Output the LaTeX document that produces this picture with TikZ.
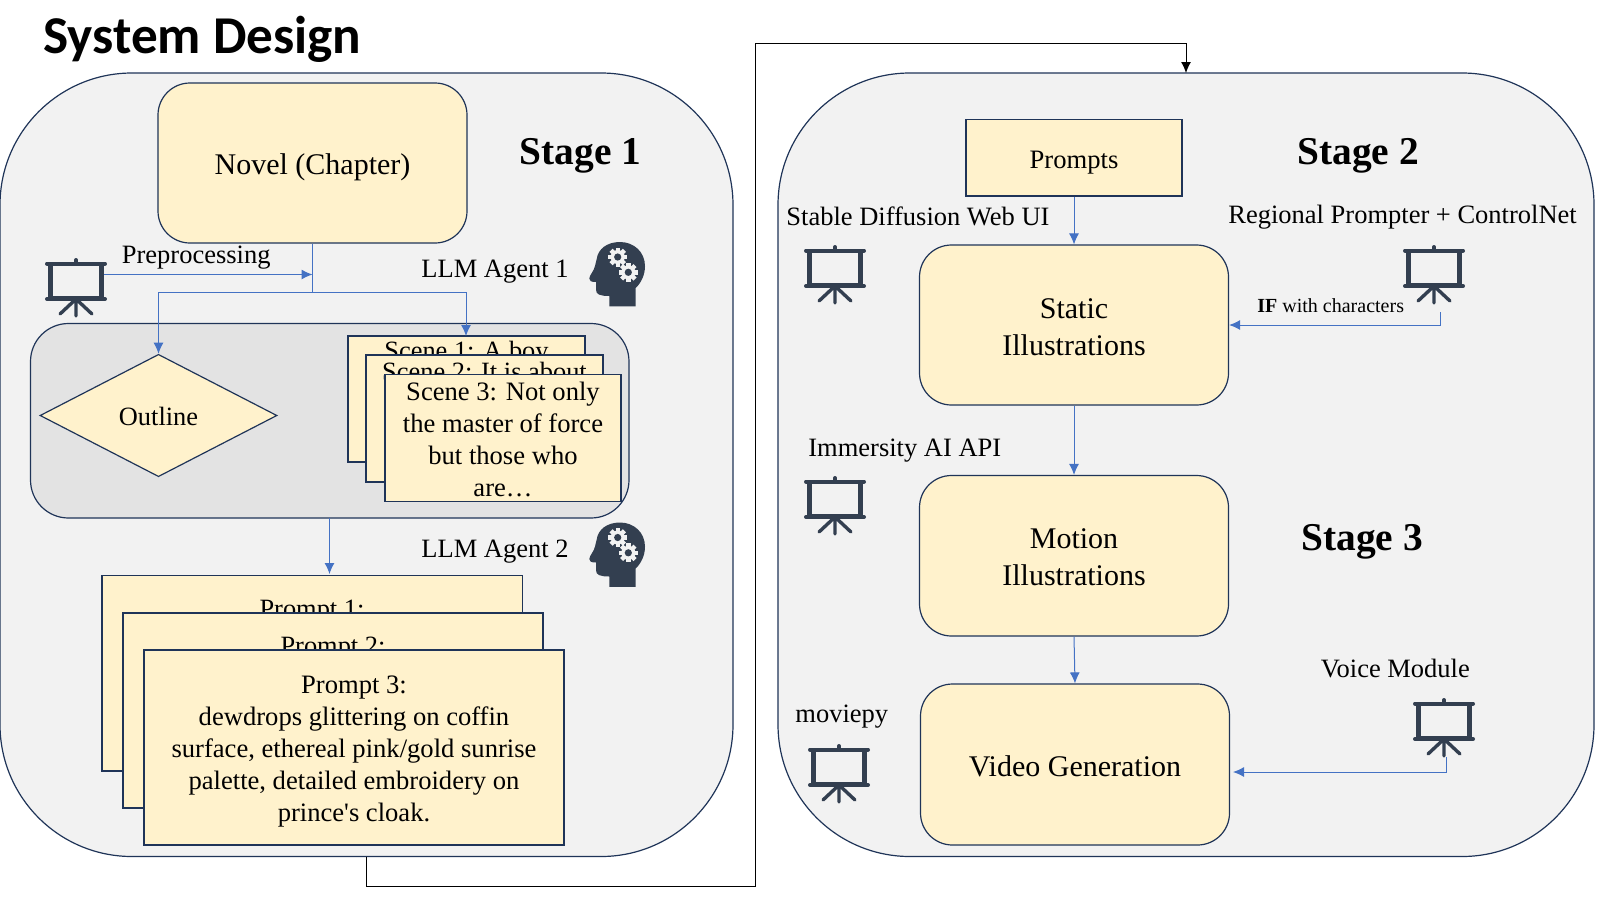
\documentclass[tikz,border=0pt]{standalone}
\usepackage{fontspec}
\setmainfont{Liberation Serif}
\newfontfamily\titlefont{Carlito}
\usetikzlibrary{arrows.meta,shapes.geometric}
\definecolor{navy}{HTML}{1F3458}
\definecolor{panelfill}{HTML}{F2F2F2}
\definecolor{innerfill}{HTML}{E3E3E3}
\definecolor{boxfill}{HTML}{FFF2CC}
\definecolor{flow}{HTML}{4472C4}
\definecolor{iconc}{HTML}{333F50}
% \pxnode{box style}{name}{x1}{y1}{x2}{y2}{text style}{text}: box given in reference pixels, with its text
\newcommand{\pxnode}[8]{%
  \pgfmathsetmacro{\pxcx}{(#3+#5)/2}\pgfmathsetmacro{\pxcy}{(#4+#6)/2}%
  \pgfmathsetmacro{\pxw}{(#5-#3)*0.5}\pgfmathsetmacro{\pxh}{(#6-#4)*0.5}%
  \node[#1,minimum width=\pxw pt,minimum height=\pxh pt] (#2) at (\pxcx,\pxcy) {};
  \node[#7] (#2text) at (\pxcx,\pxcy) {#8};}
\tikzset{
  panel/.style={draw=navy,line width=0.6pt,fill=panelfill,rounded corners=66pt,inner sep=0pt},
  innerpanel/.style={draw=navy,line width=0.6pt,fill=innerfill,rounded corners=19pt,inner sep=0pt},
  softbox/.style={draw=navy,line width=0.6pt,fill=boxfill,rounded corners=16pt,inner sep=0pt},
  sheet/.style={draw=navy,line width=0.6pt,fill=boxfill,inner sep=0pt},
  softtext/.style={inner sep=0pt,align=center,font=\fontsize{15}{18.3}\selectfont},
  sheettext/.style={inner sep=0pt,align=center,font=\fontsize{13.3}{16}\selectfont},
  covered/.style={inner sep=0pt,font=\fontsize{13.2}{16}\selectfont},
  decision/.style={diamond,aspect=1.55,draw=navy,line width=0.6pt,fill=boxfill,inner sep=0pt},
  lbl/.style={inner sep=0pt,anchor=west,font=\fontsize{13.25}{16}\selectfont},
  stagelbl/.style={inner sep=0pt,anchor=west,font=\fontsize{19.7}{24}\selectfont\bfseries},
  flowline/.style={draw=flow,line width=0.5pt,-{Latex[length=5.5pt,width=5pt]}},
  mainline/.style={draw=black,line width=0.5pt,-{Latex[length=5.5pt,width=5pt]}},
  screenicon/.pic={
    \draw[iconc,line width=2.2pt,fill=panelfill] (-25.5,5) rectangle (25.5,39.5);
    \draw[iconc,line width=2pt,line cap=round] (-29,4.5) -- (29,4.5) (-29,40) -- (29,40) (0,1) -- (0,4.5);
    \draw[iconc,line width=1.7pt,line cap=round] (0,40) -- (-16,55) (0,40) -- (0,57) (0,40) -- (16,55);
  },
  gearicon/.pic={
    \fill[panelfill] (0,0) circle (7);
    \foreach \a in {0,45,...,315}{\fill[panelfill,rotate=\a] (-2.2,-9.5) rectangle (2.2,0);}
    \fill[iconc] (0,0) circle (3.6);
  },
  headicon/.pic={
    \fill[iconc] (20.3,64.3) -- (46.7,64.3) -- (46.7,46)
      .. controls (52,41) and (56,33) .. (56,24.3)
      .. controls (56,10) and (45,0) .. (31,0)
      .. controls (18,0) and (9,7) .. (7.7,17)
      -- (6,24) .. controls (5,29) and (0.5,33) .. (0.3,36.5)
      .. controls (0.2,39) and (2,40) .. (7,40)
      -- (7,47.7) .. controls (7,52.5) and (11,54) .. (20.3,54) -- cycle;
    \pic at (28.7,15) {gearicon};
    \pic at (39.3,30.3) {gearicon};
  }
}
\begin{document}
\begin{tikzpicture}[x=0.5pt,y=-0.5pt]
\useasboundingbox[fill=white] (0,0) rectangle (1600,900);
% panels
\pxnode{panel}{stageA}{0}{73}{733}{856.5}{inner sep=0pt}{}
\pxnode{panel}{stageB}{778}{73}{1594}{856.5}{inner sep=0pt}{}
\node[anchor=west,inner sep=0pt,font=\titlefont\fontsize{26.6}{30}\selectfont\bfseries] (title) at (43,39) {System Design};
\node[stagelbl] (s1) at (519.5,155.5) {Stage 1};
\node[stagelbl] (s2) at (1297,155.5) {Stage 2};
\node[stagelbl] (s3) at (1301,541.5) {Stage 3};
% stage 1
\pxnode{softbox}{novel}{158}{83}{467}{243}{softtext,yshift=-2pt}{Novel (Chapter)}
\pxnode{innerpanel}{inner}{30.5}{323.5}{629}{518}{inner sep=0pt}{}
\node[decision,minimum width=118.5pt,minimum height=61.2pt] (outline) at (158.5,415.5) {};
\node[covered] (outlinetext) at (158.5,416.5) {Outline};
\pxnode{sheet}{sceneA}{348}{336}{585}{462}{inner sep=0pt}{}
\node[covered] (sceneAt) at (466.5,353.5) {Scene 1: A boy};
\pxnode{sheet}{sceneB}{366}{355}{603}{482}{inner sep=0pt}{}
\node[covered] (sceneBt) at (484.5,372) {Scene 2: It is about};
\pxnode{sheet}{sceneC}{385}{374.5}{621}{501.5}{sheettext,yshift=-0.7pt}{Scene 3: Not only\\the master of force\\but those who\\are\dots}
\pxnode{sheet}{promptA}{102}{575.5}{522.5}{771}{inner sep=0pt}{}
\node[covered] (promptAt) at (312,611.5) {Prompt 1:};
\pxnode{sheet}{promptB}{123}{613}{543}{808}{inner sep=0pt}{}
\node[covered] (promptBt) at (333,649) {Prompt 2:};
\pxnode{sheet}{promptC}{144}{650}{564}{845}{sheettext,yshift=-2.2pt}{Prompt 3:\\dewdrops glittering on coffin\\surface, ethereal pink/gold sunrise\\palette, detailed embroidery on\\prince\textquotesingle s cloak.}
\node[lbl] (pre) at (121.5,258) {Preprocessing};
\node[lbl] (agentA) at (421,272) {LLM Agent 1};
\node[lbl] (agentB) at (421,552) {LLM Agent 2};
% stage 1 connectors
\coordinate (junction) at (novel.south |- 0,292);
\coordinate (preIn) at (102,274.5);
\coordinate (preEnd) at (novel.south |- preIn);
\coordinate (outlineTurn) at (outline.north |- junction);
\coordinate (sceneEnd) at (466,336);
\coordinate (sceneTurn) at (sceneEnd |- junction);
\coordinate (innerOut) at (329.5,518);
\coordinate (promptIn) at (329.5,574);
\draw[draw=flow,line width=0.5pt] (novel.south) -- (junction);
\draw[flowline] (preIn) -- (preEnd);
\draw[flowline] (junction) -- (outlineTurn) -- (outline.north);
\draw[flowline] (junction) -- (sceneTurn) -- (sceneEnd);
\draw[flowline] (innerOut) -- (promptIn);
% stage 2 / 3
\pxnode{sheet}{prompts}{966}{119.5}{1182}{196}{sheettext,yshift=-2.5pt}{Prompts}
\pxnode{softbox}{static}{919.5}{245}{1228.5}{405}{softtext,yshift=-1pt}{Static\\Illustrations}
\pxnode{softbox}{motion}{919.5}{475.5}{1228.5}{636}{softtext,yshift=-0.75pt}{Motion\\Illustrations}
\pxnode{softbox}{video}{920.5}{684}{1229.5}{845}{softtext,yshift=-0.75pt}{Video Generation}
\node[lbl] (sd) at (786,216) {Stable Diffusion Web UI};
\node[lbl] (rp) at (1228,217) {Regional Prompter + ControlNet};
\node[lbl,font=\fontsize{10}{12}\selectfont] (ifc) at (1257,305.5) {\textbf{IF} with characters};
\node[lbl] (imm) at (808,451) {Immersity AI API};
\node[lbl] (mp) at (795,717) {moviepy};
\node[lbl] (vm) at (1320.5,668) {Voice Module};
\draw[flowline] (prompts.south) -- (static.north);
\draw[flowline] (static.south) -- (motion.north);
\draw[flowline] (motion.south) -- (video.north);
\coordinate (ifStart) at (1440,312);
\coordinate (ifTurn) at (ifStart |- static.east);
\draw[flowline] (ifStart) -- (ifTurn) -- (static.east);
\coordinate (vmStart) at (1446,757);
\coordinate (vmEnd) at (1233,772);
\coordinate (vmTurn) at (vmStart |- vmEnd);
\draw[flowline] (vmStart) -- (vmTurn) -- (vmEnd);
% stage 1 to stage 2
\coordinate (loopA) at (366,886);
\coordinate (loopB) at (755,886);
\coordinate (loopC) at (755,43);
\coordinate (loopD) at (1186,43);
\coordinate (stageBin) at (1186,73);
\coordinate (stageAout) at (366,856.5);
\draw[mainline] (stageAout) -- (loopA) -- (loopB) -- (loopC) -- (loopD) -- (stageBin);
% icons
\pic at (76,259) {screenicon};
\pic at (835,246) {screenicon};
\pic at (1434,246) {screenicon};
\pic at (835,477) {screenicon};
\pic at (839,745) {screenicon};
\pic at (1444,699) {screenicon};
\pic at (589,242) {headicon};
\pic at (589,522.5) {headicon};
\end{tikzpicture}
\end{document}
